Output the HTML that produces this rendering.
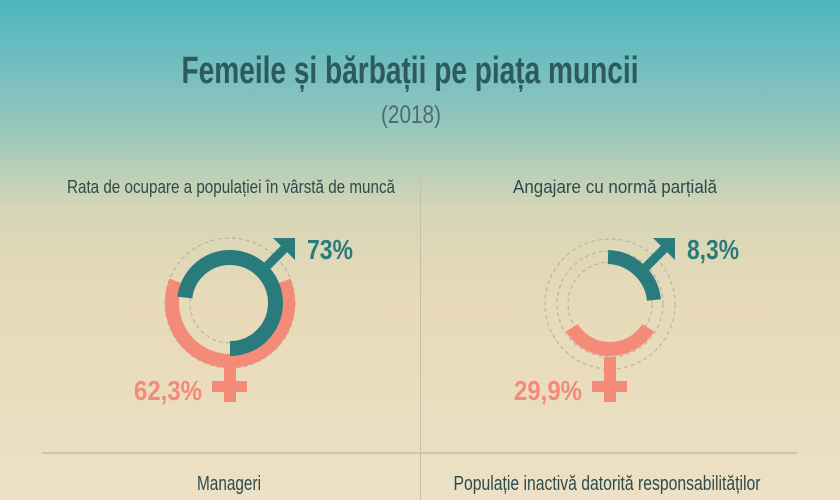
<!DOCTYPE html>
<html><head><meta charset="utf-8"><style>
html,body{margin:0;padding:0;width:840px;height:500px;overflow:hidden}
svg{display:block}
text{font-family:"Liberation Sans Narrow","Liberation Sans",sans-serif}
</style></head><body>
<svg width="840" height="500" viewBox="0 0 840 500" xmlns="http://www.w3.org/2000/svg">
<defs>
<linearGradient id="bg" x1="0" y1="0" x2="0" y2="1">
<stop offset="0" stop-color="#4db6c1"/>
<stop offset="0.22" stop-color="#8cc4bd"/>
<stop offset="0.42" stop-color="#d6d6b6"/>
<stop offset="0.6" stop-color="#e7dab8"/>
<stop offset="1" stop-color="#ece1c6"/>
</linearGradient>
</defs>
<rect width="840" height="500" fill="url(#bg)"/>
<text x="410" y="83" text-anchor="middle" font-size="38" font-weight="bold" fill="#2c5a5e" textLength="457" lengthAdjust="spacingAndGlyphs">Femeile și bărbații pe piața muncii</text>
<text x="411" y="123" text-anchor="middle" font-size="25" fill="#4d6c6e" textLength="60" lengthAdjust="spacingAndGlyphs">(2018)</text>
<text x="231" y="193" text-anchor="middle" font-size="18" fill="#2f4a4c" textLength="328" lengthAdjust="spacingAndGlyphs">Rata de ocupare a populației în vârstă de muncă</text>
<text x="615" y="193" text-anchor="middle" font-size="18" fill="#2f4a4c" textLength="204" lengthAdjust="spacingAndGlyphs">Angajare cu normă parțială</text>
<line x1="420.5" y1="175" x2="420.5" y2="500" stroke="#c9bfa6" stroke-width="1"/>
<line x1="42" y1="453" x2="797" y2="453" stroke="#d0c5a9" stroke-width="2"/>
<text x="229" y="490" text-anchor="middle" font-size="20" fill="#2f4a4c" textLength="64" lengthAdjust="spacingAndGlyphs">Manageri</text>
<text x="607" y="490" text-anchor="middle" font-size="20" fill="#2f4a4c" textLength="307" lengthAdjust="spacingAndGlyphs">Populație inactivă datorită responsabilităților</text>

<!-- left chart -->
<g fill="none" stroke="#b8ae98" stroke-width="1" stroke-dasharray="4 3">
<circle cx="230" cy="303" r="65"/>
<circle cx="230" cy="303" r="40"/>
</g>
<path d="M176.2 281.3 A58 58 0 1 0 283.8 281.3" fill="none" stroke="#f48a78" stroke-width="14"/>
<path d="M230 348.5 A45.5 45.5 0 1 0 184.8 297.5" fill="none" stroke="#2a7b7c" stroke-width="15"/>
<line x1="262" y1="271" x2="287" y2="246" stroke="#2a7b7c" stroke-width="9"/>
<polygon points="273,238 295,238 295,260" fill="#2a7b7c"/>
<rect x="224" y="367" width="12" height="35" fill="#f48a78"/>
<rect x="212" y="381" width="35" height="11" fill="#f48a78"/>
<text x="307" y="259" font-size="28" font-weight="bold" fill="#2a7b7c" textLength="46" lengthAdjust="spacingAndGlyphs">73%</text>
<text x="202" y="400" text-anchor="end" font-size="28" font-weight="bold" fill="#f48a78" textLength="68" lengthAdjust="spacingAndGlyphs">62,3%</text>

<!-- right chart -->
<g fill="none" stroke="#b8ae98" stroke-width="1" stroke-dasharray="4 3">
<circle cx="610" cy="304" r="65"/>
<circle cx="610" cy="304" r="53"/>
<circle cx="610" cy="304" r="42"/>
</g>
<path d="M571.8 327.8 A45 45 0 0 0 648.2 327.8" fill="none" stroke="#f48a78" stroke-width="14"/>
<path d="M608 257 A48 48 0 0 1 654 300" fill="none" stroke="#2a7b7c" stroke-width="14"/>
<line x1="642" y1="271" x2="667" y2="246" stroke="#2a7b7c" stroke-width="9"/>
<polygon points="653,238 675,238 675,260" fill="#2a7b7c"/>
<rect x="604" y="357" width="12" height="45" fill="#f48a78"/>
<rect x="592" y="381" width="35" height="11" fill="#f48a78"/>
<text x="687" y="259" font-size="28" font-weight="bold" fill="#2a7b7c" textLength="52" lengthAdjust="spacingAndGlyphs">8,3%</text>
<text x="582" y="400" text-anchor="end" font-size="28" font-weight="bold" fill="#f48a78" textLength="68" lengthAdjust="spacingAndGlyphs">29,9%</text>
</svg>
</body></html>
